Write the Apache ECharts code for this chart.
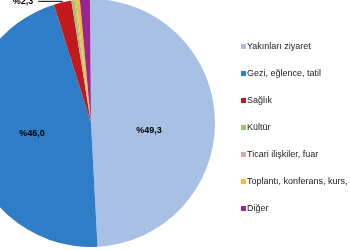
<!DOCTYPE html>
<html><head><meta charset="utf-8">
<script src="https://cdn.jsdelivr.net/npm/echarts@6/dist/echarts.min.js"></script>
<style>html,body{margin:0;padding:0;background:#fff}#c{width:350px;height:250px}</style>
</head><body><div id="c"></div>
<script>
const categories = ["Yakınları ziyaret","Gezi, eğlence, tatil","Sağlık","Kültür","Ticari ilişkiler, fuar","Toplantı, konferans, kurs, seminer","Diğer"];
const values = [49.3, 46.0, 2.3, 0.4, 0.2, 0.5, 1.3];
const colors = ["#A7C0E3","#2E7DC6","#C1191E","#9DC36A","#DDA9A6","#F0C23A","#9A2591"];
const labelTexts = ["%49,3","%46,0","%2,3","","","",""];
const labelShift = [[-7,10],[5,-1]];

const chart = echarts.init(document.getElementById('c'), null, {renderer:'canvas'});
const data = categories.map((name,i)=>{
  const d = {name, value: values[i], itemStyle:{color: colors[i]}};
  if (i < 2) {
    d.label = {show:true, position:'inside', formatter: labelTexts[i], offset: labelShift[i]};
    d.labelLine = {show:false};
  } else if (i === 2) {
    d.label = {show:true, position:'outside', formatter: labelTexts[i], alignTo:'none'};
    d.labelLine = {show:true, length:1, length2:24, lineStyle:{color:'#000', width:1}};
  } else {
    d.label = {show:false};
    d.labelLine = {show:false};
  }
  return d;
});
chart.setOption({
  animation:false,
  backgroundColor:'#fff',
  legend:{
    orient:'vertical', left:236, top:37,
    itemWidth:5, itemHeight:5, itemGap:18,
    icon:'rect',
    textStyle:{fontFamily:'Liberation Sans, Arial, sans-serif', fontSize:9, color:'#222', padding:[0,0,0,-4]},
    data: categories
  },
  series:[{
    type:'pie',
    center:[91,123],
    radius:124,
    startAngle:90.5,
    clockwise:true,
    avoidLabelOverlap:false,
    label:{color:'#000', fontSize:9, fontWeight:'bold', fontFamily:'Liberation Sans, Arial, sans-serif'},
    itemStyle:{borderWidth:0},
    emphasis:{disabled:true},
    data
  }]
});
</script></body></html>
